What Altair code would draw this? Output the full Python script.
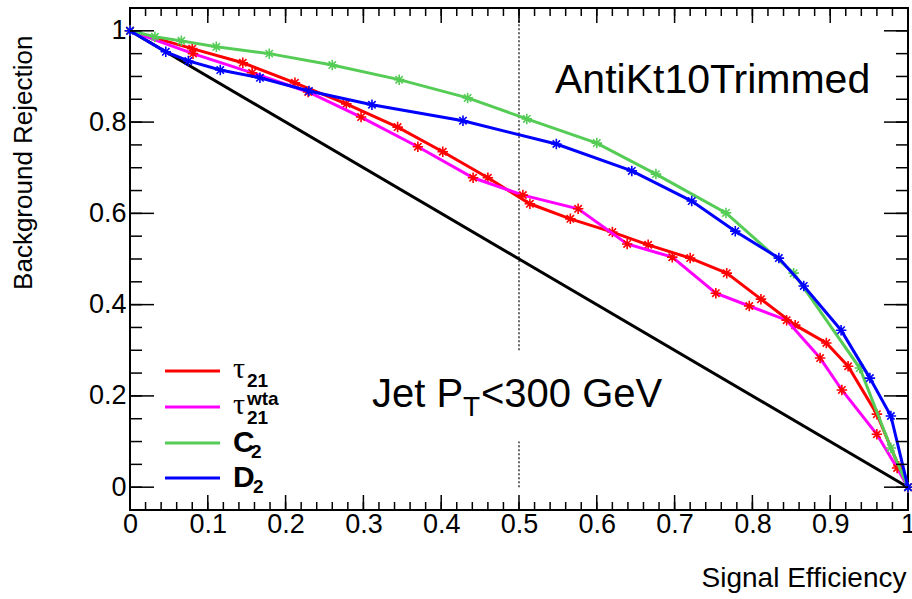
import altair as alt
import pandas as pd

# ---------------- data ----------------
tau21_eff = [0.0, 0.080, 0.145, 0.212, 0.278, 0.344, 0.402, 0.460, 0.514, 0.566, 0.620,
             0.666, 0.720, 0.767, 0.811, 0.855, 0.895, 0.923, 0.960, 0.988, 1.0]
tau21_rej = [1.0, 0.961, 0.930, 0.886, 0.840, 0.789, 0.735, 0.678, 0.621, 0.588, 0.559,
             0.531, 0.502, 0.469, 0.412, 0.355, 0.316, 0.265, 0.160, 0.046, 0.0]

wta_eff = [0.0, 0.081, 0.157, 0.229, 0.297, 0.370, 0.441, 0.505, 0.576, 0.639, 0.697,
           0.753, 0.796, 0.844, 0.887, 0.915, 0.960, 0.986, 1.0]
wta_rej = [1.0, 0.950, 0.908, 0.866, 0.811, 0.746, 0.678, 0.640, 0.610, 0.533, 0.504,
           0.425, 0.397, 0.366, 0.283, 0.213, 0.116, 0.042, 0.0]

c2_eff = [0.0, 0.032, 0.066, 0.111, 0.179, 0.260, 0.346, 0.434, 0.510, 0.600, 0.676,
          0.766, 0.853, 0.938, 0.978, 1.0]
c2_rej = [1.0, 0.987, 0.978, 0.965, 0.950, 0.925, 0.893, 0.853, 0.807, 0.754, 0.686,
          0.601, 0.469, 0.261, 0.086, 0.0]

d2_eff = [0.0, 0.046, 0.075, 0.116, 0.167, 0.230, 0.311, 0.428, 0.548, 0.645, 0.722,
          0.778, 0.834, 0.866, 0.914, 0.951, 0.978, 1.0]
d2_rej = [1.0, 0.954, 0.934, 0.914, 0.897, 0.868, 0.838, 0.803, 0.752, 0.693, 0.627,
          0.561, 0.502, 0.441, 0.344, 0.239, 0.156, 0.0]

random_eff = [0.0, 1.0]
random_rej = [1.0, 0.0]

cut_eff = [0.5, 0.5]
cut_lo = [0.30, 0.0]
cut_hi = [1.05, 0.10]

x_major = [0.0, 0.1, 0.2, 0.3, 0.4, 0.5, 0.6, 0.7, 0.8, 0.9, 1.0]
y_major = [0.0, 0.2, 0.4, 0.6, 0.8, 1.0]
x_minor = [round(0.02 * i, 2) for i in range(51)]
y_minor = [round(-0.05 + 0.05 * i, 2) for i in range(23)]

legend_main = ["τ", "τ", "C", "D"]
legend_sub = ["21", "21", "2", "2"]
legend_sup = ["", "wta", "", ""]

# ---------------- layout / style ----------------
W, H = 778, 502
FONT = "Liberation Sans"
xs = alt.Scale(domain=[0, 1], nice=False, zero=False)
ys = alt.Scale(domain=[-0.05, 1.05], nice=False, zero=False)
xaxis = alt.Axis(values=x_major, format="~g", ticks=False, tickSize=0, domain=False, grid=False,
                 labelFont=FONT, labelFontSize=27, labelColor="black", labelPadding=1,
                 labelFlush=False, labelOverlap=False,
                 title="Signal Efficiency", titleFont=FONT, titleFontSize=28,
                 titleFontWeight="normal", titleColor="black", titleX=776, titleY=76,
                 titleAlign="right", titleBaseline="alphabetic")
yaxis = alt.Axis(values=y_major, format="~g", ticks=False, tickSize=0, domain=False, grid=False,
                 labelFont=FONT, labelFontSize=27, labelColor="black", labelPadding=4,
                 labelFlush=False, labelOverlap=False,
                 title="Background Rejection", titleFont=FONT, titleFontSize=26,
                 titleFontWeight="normal", titleColor="black", titleX=-107, titleY=27,
                 titleAngle=270, titleAlign="right", titleBaseline="middle")


def X(f):
    return alt.X(f, type="quantitative", scale=xs, axis=xaxis)


def Y(f):
    return alt.Y(f, type="quantitative", scale=ys, axis=yaxis)


STAR = "M-1,0L1,0M0,-1L0,1M-0.7,-0.7L0.7,0.7M-0.7,0.7L0.7,-0.7"

layers = []

# random-tagger diagonal
diag = pd.DataFrame({"x": random_eff, "y": random_rej})
layers.append(alt.Chart(diag).mark_line(color="black", strokeWidth=3).encode(x=X("x"), y=Y("y")))

# dotted working-point line
cut = pd.DataFrame({"x": cut_eff, "y": cut_lo, "y2": cut_hi})
layers.append(alt.Chart(cut).mark_rule(color="black", strokeWidth=1.2, strokeDash=[2, 2]).encode(
    x=X("x"), y=Y("y"), y2="y2"))

series = [
    (tau21_eff, tau21_rej, "#ff0000", "#ff0000"),
    (wta_eff, wta_rej, "#ff00ff", "#ff0000"),
    (c2_eff, c2_rej, "#55cc55", "#55cc55"),
    (d2_eff, d2_rej, "#0000ff", "#0000ff"),
]
for eff, rej, lc, mc in series:
    df = pd.DataFrame({"x": eff, "y": rej, "o": list(range(len(eff)))})
    layers.append(alt.Chart(df).mark_line(color=lc, strokeWidth=3).encode(
        x=X("x"), y=Y("y"), order="o:Q"))
    layers.append(alt.Chart(df).mark_point(shape=STAR, size=110, filled=False, color=mc,
                                           strokeWidth=1.6, opacity=1).encode(x=X("x"), y=Y("y")))

# inward ticks on all four sides
xmaj = pd.DataFrame({"x": x_major})
xmin = pd.DataFrame({"x": x_minor})
ymaj = pd.DataFrame({"y": y_major})
ymin = pd.DataFrame({"y": y_minor})
tick = dict(color="black", strokeWidth=1.5)
layers += [
    alt.Chart(xmaj).mark_rule(**tick).encode(x=X("x"), y=alt.value(H), y2=alt.value(H - 15)),
    alt.Chart(xmin).mark_rule(**tick).encode(x=X("x"), y=alt.value(H), y2=alt.value(H - 8)),
    alt.Chart(xmaj).mark_rule(**tick).encode(x=X("x"), y=alt.value(0), y2=alt.value(15)),
    alt.Chart(xmin).mark_rule(**tick).encode(x=X("x"), y=alt.value(0), y2=alt.value(8)),
    alt.Chart(ymaj).mark_rule(**tick).encode(y=Y("y"), x=alt.value(0), x2=alt.value(24)),
    alt.Chart(ymin).mark_rule(**tick).encode(y=Y("y"), x=alt.value(0), x2=alt.value(12)),
    alt.Chart(ymaj).mark_rule(**tick).encode(y=Y("y"), x=alt.value(W), x2=alt.value(W - 24)),
    alt.Chart(ymin).mark_rule(**tick).encode(y=Y("y"), x=alt.value(W), x2=alt.value(W - 12)),
]

# annotations
layers.append(alt.Chart(pd.DataFrame({"t": ["AntiKt10Trimmed"]})).mark_text(
    font=FONT, fontSize=41, align="left", baseline="alphabetic", color="black").encode(
    x=alt.value(425), y=alt.value(85), text="t:N"))
jet = alt.Chart(pd.DataFrame({"t": ["Jet P"]})).mark_text(
    font=FONT, fontSize=40, align="left", baseline="alphabetic", color="black").encode(
    x=alt.value(242), y=alt.value(399), text="t:N")
jet_sub = alt.Chart(pd.DataFrame({"t": ["T"]})).mark_text(
    font=FONT, fontSize=28, align="left", baseline="alphabetic", color="black").encode(
    x=alt.value(242 + 91), y=alt.value(408), text="t:N")
jet_rest = alt.Chart(pd.DataFrame({"t": ["<300 GeV"]})).mark_text(
    font=FONT, fontSize=40, align="left", baseline="alphabetic", color="black").encode(
    x=alt.value(242 + 109), y=alt.value(399), text="t:N")
layers += [jet, jet_sub, jet_rest]

# hand-built legend
leg_rows = [363, 399, 435, 470]
main_dy = [7, 7, 9, 9]
sub_dx = [14, 14, 18, 20]
sub_dy = [16, 17, 15, 15]
for i in range(4):
    lc = series[i][2]
    r = leg_rows[i]
    layers.append(alt.Chart(pd.DataFrame({"a": [0]})).mark_rule(color=lc, strokeWidth=3).encode(
        x=alt.value(35), x2=alt.value(90), y=alt.value(r)))
    bold = "normal" if legend_main[i] == "τ" else "bold"
    mfont = "Liberation Serif" if legend_main[i] == "τ" else FONT
    layers.append(alt.Chart(pd.DataFrame({"t": [legend_main[i]]})).mark_text(
        font=mfont, fontSize=30, fontWeight=bold, align="left", baseline="alphabetic",
        color="black").encode(x=alt.value(103), y=alt.value(r + main_dy[i]), text="t:N"))
    layers.append(alt.Chart(pd.DataFrame({"t": [legend_sub[i]]})).mark_text(
        font=FONT, fontSize=19, fontWeight="bold", align="left", baseline="alphabetic",
        color="black").encode(x=alt.value(103 + sub_dx[i]), y=alt.value(r + sub_dy[i]), text="t:N"))
    if legend_sup[i]:
        layers.append(alt.Chart(pd.DataFrame({"t": [legend_sup[i]]})).mark_text(
            font=FONT, fontSize=19, fontWeight="bold", align="left", baseline="alphabetic",
            color="black").encode(x=alt.value(103 + sub_dx[i]), y=alt.value(r - 2), text="t:N"))

chart = alt.layer(*layers).properties(
    width=W, height=H,
    autosize=alt.AutoSizeParams(type="none"),
    padding={"left": 130, "top": 8, "right": 4, "bottom": 89},
    background="white",
).configure_view(stroke="black", strokeWidth=2)

chart.save("out.html", embed_options={"renderer": "svg", "actions": False})
